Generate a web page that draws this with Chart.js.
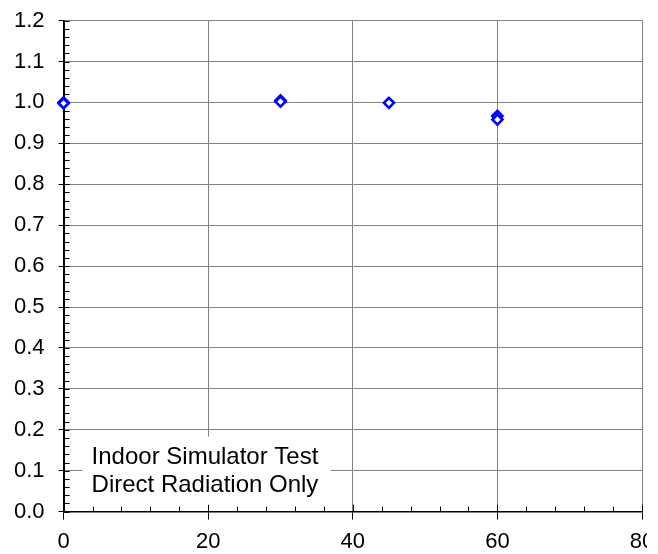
<!DOCTYPE html>
<html>
<head>
<meta charset="utf-8">
<script src="https://cdn.jsdelivr.net/npm/chart.js@4/dist/chart.umd.min.js"></script>
<style>
  html, body { margin: 0; padding: 0; background: #fff; }
  /* the original picture is cropped just right of the plot, cutting the "80" */
  #wrap { width: 647px; height: 554px; overflow: hidden; }
  #wrap canvas { display: block; }
</style>
</head>
<body>
<div id="wrap"><canvas id="chart" width="658" height="554"></canvas></div>
<script>
/* ── Data ─────────────────────────────────────────────────── */
const angles = [0, 0, 30, 30, 45, 60, 60];
const ratios = [1.000, 0.998, 1.005, 1.002, 0.999, 0.967, 0.958];

/* ── Axes ─────────────────────────────────────────────────── */
const xTicks = [0, 20, 40, 60, 80];
const yTicks = [0, 0.1, 0.2, 0.3, 0.4, 0.5, 0.6, 0.7, 0.8, 0.9, 1.0, 1.1, 1.2];
const xMinorStep = 4;
const yMinorStep = 0.02;

const noteLines = ['Indoor Simulator Test', 'Direct Radiation Only'];

const FONT = '"Liberation Sans", Arial, sans-serif';

/* ── Minor (inside) tick marks on both axes ───────────────── */
const minorTicks = {
  id: 'minorTicks',
  beforeDatasetsDraw(chart) {
    const { ctx, chartArea, scales: { x, y } } = chart;
    ctx.save();
    ctx.strokeStyle = '#000';
    ctx.lineWidth = 1;
    ctx.beginPath();
    const nx = Math.round((x.max - x.min) / xMinorStep);
    for (let i = 0; i <= nx; i++) {
      const px = Math.round(x.getPixelForValue(x.min + i * xMinorStep)) + 0.5;
      const len = i % 5 === 0 ? 7 : 5;
      ctx.moveTo(px, chartArea.bottom);
      ctx.lineTo(px, chartArea.bottom - len);
    }
    const ny = Math.round((y.max - y.min) / yMinorStep);
    for (let i = 0; i <= ny; i++) {
      const py = Math.round(y.getPixelForValue(y.min + i * yMinorStep)) + 0.5;
      ctx.moveTo(chartArea.left, py);
      ctx.lineTo(chartArea.left + 6, py);
    }
    ctx.stroke();
    ctx.restore();
  }
};

/* ── Text box in the lower left corner ────────────────────── */
const noteBox = {
  id: 'noteBox',
  beforeDatasetsDraw(chart) {
    const { ctx, chartArea } = chart;
    const left = chartArea.left + 19;
    const top = chartArea.bottom - 75;
    ctx.save();
    ctx.fillStyle = '#fff';
    ctx.fillRect(left, top, 248, 68);
    ctx.fillStyle = '#000';
    ctx.font = '24px ' + FONT;
    ctx.textBaseline = 'alphabetic';
    ctx.textAlign = 'left';
    noteLines.forEach((t, i) => {
      ctx.fillText(t, left + 9, chartArea.bottom - 48 + i * 28.3);
    });
    ctx.restore();
  }
};

const ctx = document.getElementById('chart').getContext('2d');

new Chart(ctx, {
  type: 'scatter',
  data: {
    datasets: [{
      data: angles.map((a, i) => ({ x: a, y: ratios[i] })),
      pointStyle: 'rectRot',
      pointRadius: 5,
      borderWidth: 2.7,
      borderColor: '#0000ff',
      backgroundColor: '#ffffff',
      clip: false
    }]
  },
  options: {
    responsive: false,
    animation: false,
    devicePixelRatio: 1,
    layout: { autoPadding: false, padding: { left: 0, right: 16, top: 19, bottom: -10 } },
    plugins: {
      legend: { display: false },
      tooltip: { enabled: false }
    },
    scales: {
      x: {
        type: 'linear',
        min: 0,
        max: 80,
        afterBuildTicks: s => { s.ticks = xTicks.map(v => ({ value: v })); },
        // let the last label run past the edge, as in the cropped original
        afterFit: s => { s.paddingRight = 0; },
        ticks: { color: '#000', padding: 9, maxRotation: 0, font: { family: FONT, size: 22 } },
        grid: { color: '#808080', lineWidth: 1, tickLength: 8, tickColor: '#000', tickWidth: 1 },
        border: { color: '#000', width: 1.5 }
      },
      y: {
        type: 'linear',
        min: 0,
        max: 1.2,
        afterBuildTicks: s => { s.ticks = yTicks.map(v => ({ value: v })); },
        ticks: {
          color: '#000',
          padding: 14,
          font: { family: FONT, size: 22, lineHeight: 0.6 },
          callback: v => v.toFixed(1)
        },
        grid: { color: '#808080', lineWidth: 1, tickLength: 5, tickColor: '#000', tickWidth: 1 },
        border: { color: '#000', width: 2 }
      }
    }
  },
  plugins: [minorTicks, noteBox]
});
</script>
</body>
</html>
